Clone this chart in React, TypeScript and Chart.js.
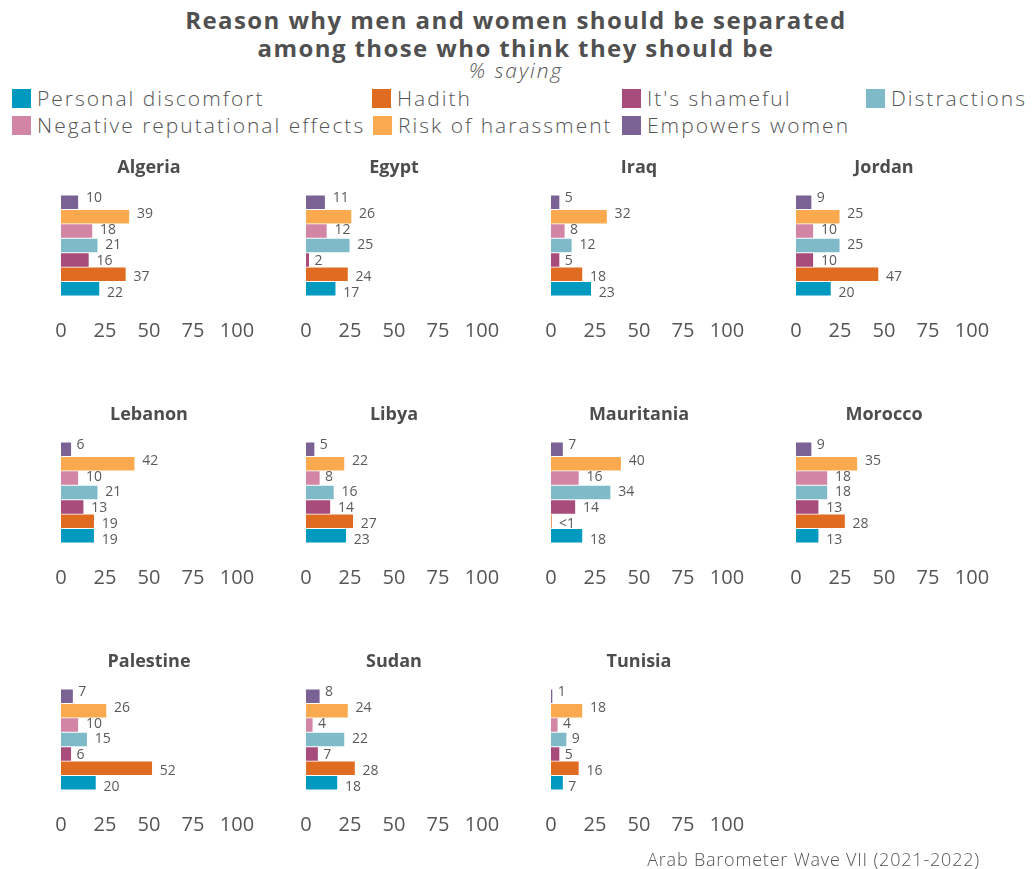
import React, { useEffect, useRef } from "react";
import { Chart, registerables } from "chart.js";

Chart.register(...registerables);

const countries = ["Algeria", "Egypt", "Iraq", "Jordan", "Lebanon", "Libya", "Mauritania", "Morocco", "Palestine", "Sudan", "Tunisia"];
const reasons = ["Personal discomfort", "Hadith", "It's shameful", "Distractions", "Negative reputational effects", "Risk of harassment", "Empowers women"];
const personalDiscomfort = [22, 17, 23, 20, 19, 23, 18, 13, 20, 18, 7];
const hadith = [37, 24, 18, 47, 19, 27, 0.4, 28, 52, 28, 16];
const shameful = [16, 2, 5, 10, 13, 14, 14, 13, 6, 7, 5];
const distractions = [21, 25, 12, 25, 21, 16, 34, 18, 15, 22, 9];
const negativeReputation = [18, 12, 8, 10, 10, 8, 16, 18, 10, 4, 4];
const riskOfHarassment = [39, 26, 32, 25, 42, 22, 40, 35, 26, 24, 18];
const empowersWomen = [10, 11, 5, 9, 6, 5, 7, 9, 7, 8, 1];
const reasonColors = ["#0099c0", "#e06c21", "#a84c7c", "#7fbac8", "#d285a5", "#fba94f", "#7a6394"];
const series = [personalDiscomfort, hadith, shameful, distractions, negativeReputation, riskOfHarassment, empowersWomen];

const FONT = "'Open Sans', 'Noto Sans', sans-serif";
const TEXT = "#555555";

const valueLabels = {
  id: "valueLabels",
  afterDatasetsDraw(chart: any) {
    const ctx = chart.ctx;
    const meta = chart.getDatasetMeta(0);
    const area = chart.chartArea;
    const mid = (area.top + area.bottom) / 2;
    const data = chart.data.datasets[0].data as number[];
    ctx.save();
    ctx.font = `14px ${FONT}`;
    ctx.fillStyle = "#5a5a5a";
    ctx.textAlign = "left";
    ctx.textBaseline = "middle";
    meta.data.forEach((bar: any, i: number) => {
      const v = data[i];
      const txt = v < 1 ? "<1" : String(Math.round(v));
      const w = ctx.measureText(txt).width;
      const x = bar.x + 2.5 + 0.3 * w;
      const y = mid + (bar.y - mid) * 1.1;
      ctx.fillText(txt, x, y);
    });
    ctx.restore();
  },
};

function Facet({ idx }: { idx: number }) {
  const ref = useRef<HTMLCanvasElement>(null);
  useEffect(() => {
    const values = series.map((s) => s[idx]);
    const chart = new Chart(ref.current as HTMLCanvasElement, {
      type: "bar",
      data: {
        labels: reasons,
        datasets: [
          {
            data: values,
            backgroundColor: reasonColors,
            borderColor: "rgba(255,255,255,0.4)",
            borderWidth: 0.8,
            barPercentage: 1,
            categoryPercentage: 1,
          },
        ],
      },
      options: {
        indexAxis: "y",
        responsive: false,
        animation: false,
        layout: { padding: { left: 20, right: 49, top: 0, bottom: 4 } },
        scales: {
          x: {
            min: 0,
            max: 100,
            grid: { display: false, drawTicks: false },
            border: { display: false },
            ticks: { stepSize: 25, padding: 23, color: TEXT, font: { family: FONT, size: 20 } },
            afterFit: (s: any) => {
              s.paddingLeft = 0;
              s.paddingRight = 0;
            },
          },
          y: { display: false, reverse: true },
        },
        plugins: {
          legend: { display: false },
          tooltip: { enabled: false },
          title: {
            display: true,
            text: countries[idx],
            color: "#4d4d4d",
            font: { family: FONT, size: 18, weight: "bold" },
            padding: { top: 17, bottom: 16.4 },
          },
        },
      },
      plugins: [valueLabels],
    } as any);
    return () => chart.destroy();
  }, [idx]);
  const col = idx % 4;
  const row = Math.floor(idx / 4);
  return (
    <canvas
      ref={ref}
      width={245}
      height={230}
      style={{ position: "absolute", left: 41 + 245 * col, top: 140 + 247 * row, width: 245, height: 230 }}
    />
  );
}

const legendPos = [
  [12, 98], [372, 98], [622, 98], [866, 98],
  [12, 125], [373, 125], [622, 125],
];

export default function App() {
  return (
    <div style={{ position: "fixed", left: 0, top: 0, width: 1032, height: 869, background: "#fff", fontFamily: FONT, color: TEXT }}>
      <div style={{ position: "absolute", left: 0, width: 1032, top: 6, lineHeight: "28px", fontSize: 24, fontWeight: 700, letterSpacing: "1.4px", textAlign: "center", color: "#505050" }}>
        Reason why men and women should be separated
      </div>
      <div style={{ position: "absolute", left: 0, width: 1032, top: 34, lineHeight: "28px", fontSize: 24, fontWeight: 700, letterSpacing: "1.4px", textAlign: "center", color: "#505050" }}>
        among those who think they should be
      </div>
      <div style={{ position: "absolute", left: 0, width: 1032, top: 57, lineHeight: "26px", fontSize: 21, fontStyle: "italic", fontWeight: 300, letterSpacing: "2px", textAlign: "center" }}>
        % saying
      </div>
      {reasons.map((r, i) => (
        <div key={r} style={{ position: "absolute", left: legendPos[i][0], top: legendPos[i][1] - 13, height: 26, display: "flex", alignItems: "center", whiteSpace: "nowrap" }}>
          <div style={{ width: 19, height: 19, background: reasonColors[i], marginRight: 6 }} />
          <span style={{ fontSize: 21, lineHeight: "26px", fontWeight: 300, letterSpacing: "2px" }}>{r}</span>
        </div>
      ))}
      {countries.map((c, i) => (
        <Facet key={c} idx={i} />
      ))}
      <div style={{ position: "absolute", right: 52, top: 848, lineHeight: "22px", fontSize: 18, fontWeight: 300, letterSpacing: "0.8px" }}>
        Arab Barometer Wave VII (2021-2022)
      </div>
    </div>
  );
}
